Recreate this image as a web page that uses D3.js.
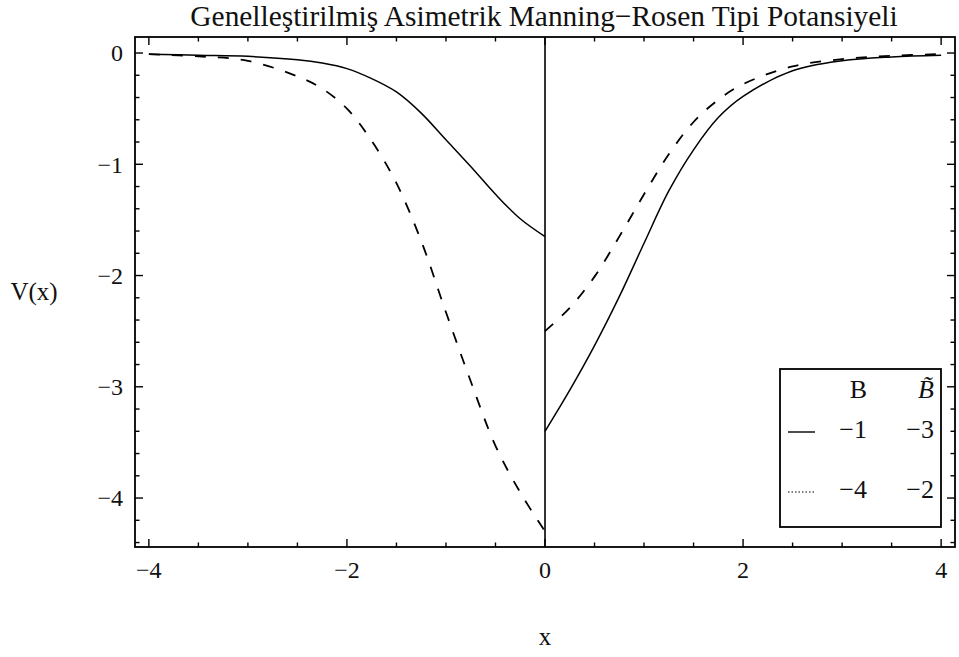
<!DOCTYPE html>
<html>
<head>
<meta charset="utf-8">
<script src="https://cdn.jsdelivr.net/npm/d3@7/dist/d3.min.js"></script>
<style>
  html, body { margin: 0; padding: 0; background: #fff; }
  svg { display: block; }
  text { font-family: "Liberation Serif", "Times New Roman", serif; fill: #111; }
</style>
</head>
<body>
<svg id="chart" width="959" height="657"></svg>
<script>
// Potential branches: left side (x < 0) and right side (x > 0)
const xNeg = [-4, -3.5, -3, -2.5, -2.25, -2, -1.75, -1.5, -1.25, -1, -0.75, -0.5, -0.25, 0];
const vSolidNeg = [-0.01, -0.02, -0.03, -0.06, -0.09, -0.14, -0.23, -0.35, -0.54, -0.78, -1.02, -1.27, -1.49, -1.65];
const vDashedNeg = [-0.01, -0.03, -0.07, -0.21, -0.32, -0.50, -0.79, -1.17, -1.69, -2.33, -2.95, -3.53, -3.95, -4.30];

const xPos = [0, 0.25, 0.5, 0.75, 1, 1.25, 1.5, 1.75, 2, 2.5, 3, 3.5, 4];
const vSolidPos = [-3.40, -3.03, -2.63, -2.19, -1.71, -1.24, -0.87, -0.58, -0.39, -0.16, -0.07, -0.035, -0.02];
const vDashedPos = [-2.50, -2.29, -2.01, -1.65, -1.27, -0.91, -0.62, -0.42, -0.28, -0.12, -0.055, -0.025, -0.01];

// Ticks
const xMajorTicks = [-4, -2, 0, 2, 4];
const xTickLabels = ["\u22124", "\u22122", "0", "2", "4"];
const xMinorTicks = [-4, -3.5, -3, -2.5, -2, -1.5, -1, -0.5, 0, 0.5, 1, 1.5, 2, 2.5, 3, 3.5, 4];
const yMajorTicks = [0, -1, -2, -3, -4];
const yTickLabels = ["0", "\u22121", "\u22122", "\u22123", "\u22124"];
const yMinorTicks = [0, -0.2, -0.4, -0.6, -0.8, -1, -1.2, -1.4, -1.6, -1.8, -2, -2.2, -2.4, -2.6, -2.8,
                     -3, -3.2, -3.4, -3.6, -3.8, -4, -4.2, -4.4];

// Legend table
const legendHeader = ["B", "B\u0303"];
const legendB = ["\u22121", "\u22124"];
const legendBtilde = ["\u22123", "\u22122"];

const titleText = "Genelle\u015ftirilmi\u015f Asimetrik Manning\u2212Rosen Tipi Potansiyeli";

const svg = d3.select("#chart");
const frameL = 135, frameR = 955, frameT = 37, frameB = 547;

const x = d3.scaleLinear().domain([-4.14, 4.14]).range([frameL, frameR]);
const y = d3.scaleLinear().domain([-4.44, 0.144]).range([frameB, frameT]);

const line = d3.line().x(d => x(d[0])).y(d => y(d[1])).curve(d3.curveCatmullRom.alpha(0.5));

const plot = svg.append("g");

// vertical axis at x = 0
plot.append("line")
  .attr("x1", x(0)).attr("x2", x(0)).attr("y1", frameT).attr("y2", frameB)
  .attr("stroke", "#000").attr("stroke-width", 1.6);

const series = [
  { xs: xNeg, vs: vSolidNeg, dash: null },
  { xs: xNeg, vs: vDashedNeg, dash: "11,12" },
  { xs: xPos, vs: vSolidPos, dash: null },
  { xs: xPos, vs: vDashedPos, dash: "11,12" }
];
series.forEach(s => {
  const pts = s.xs.map((xv, i) => [xv, s.vs[i]]);
  plot.append("path")
    .attr("d", line(pts))
    .attr("fill", "none")
    .attr("stroke", "#000")
    .attr("stroke-width", s.dash ? 1.8 : 1.5)
    .attr("stroke-dasharray", s.dash);
});

// Frame
svg.append("rect")
  .attr("x", frameL).attr("y", frameT).attr("width", frameR - frameL).attr("height", frameB - frameT)
  .attr("fill", "none").attr("stroke", "#000").attr("stroke-width", 1.8);

// Frame ticks (all four sides, pointing inward)
const tickG = svg.append("g").attr("stroke", "#000").attr("stroke-width", 1.4);
xMinorTicks.forEach(t => {
  const len = xMajorTicks.includes(t) ? 8 : 4.5;
  tickG.append("line").attr("x1", x(t)).attr("x2", x(t)).attr("y1", frameB).attr("y2", frameB - len);
  tickG.append("line").attr("x1", x(t)).attr("x2", x(t)).attr("y1", frameT).attr("y2", frameT + len);
});
yMinorTicks.forEach(t => {
  const len = yMajorTicks.some(m => Math.abs(m - t) < 1e-9) ? 8 : 4.5;
  tickG.append("line").attr("x1", frameL).attr("x2", frameL + len).attr("y1", y(t)).attr("y2", y(t));
  tickG.append("line").attr("x1", frameR).attr("x2", frameR - len).attr("y1", y(t)).attr("y2", y(t));
});

// Tick labels
xMajorTicks.forEach((t, i) => {
  svg.append("text").attr("x", x(t)).attr("y", 578)
    .attr("text-anchor", "middle").attr("font-size", 24).text(xTickLabels[i]);
});
yMajorTicks.forEach((t, i) => {
  svg.append("text").attr("x", 123).attr("y", y(t)).attr("dy", "0.35em")
    .attr("text-anchor", "end").attr("font-size", 24).text(yTickLabels[i]);
});

// Axis labels
svg.append("text").attr("x", 34).attr("y", (frameT + frameB) / 2).attr("dy", "0.33em")
  .attr("text-anchor", "middle").attr("font-size", 25).text("V(x)");
svg.append("text").attr("x", (frameL + frameR) / 2).attr("y", 645)
  .attr("text-anchor", "middle").attr("font-size", 25).text("x");

// Title
svg.append("text").attr("x", (frameL + frameR) / 2 - 1).attr("y", 26)
  .attr("text-anchor", "middle").attr("font-size", 29.4).text(titleText);

// Legend
const lg = svg.append("g");
lg.append("rect").attr("x", 780).attr("y", 369).attr("width", 161).attr("height", 158)
  .attr("fill", "#fff").attr("stroke", "#000").attr("stroke-width", 1.8);
lg.append("text").attr("x", 867).attr("y", 398).attr("text-anchor", "end")
  .attr("font-size", 26).text(legendHeader[0]);
lg.append("text").attr("x", 934).attr("y", 398).attr("text-anchor", "end")
  .attr("font-size", 26).attr("font-style", "italic").text(legendHeader[1]);
const rowY = [438, 498];
const rowDash = [null, "1.5,2"];
rowY.forEach((ry, i) => {
  lg.append("line").attr("x1", 788).attr("x2", 815).attr("y1", ry - 6).attr("y2", ry - 6)
    .attr("stroke", "#000").attr("stroke-width", rowDash[i] ? 1.2 : 1.4)
    .attr("stroke-dasharray", rowDash[i]);
  lg.append("text").attr("x", 867).attr("y", ry).attr("text-anchor", "end")
    .attr("font-size", 26).text(legendB[i]);
  lg.append("text").attr("x", 934).attr("y", ry).attr("text-anchor", "end")
    .attr("font-size", 26).text(legendBtilde[i]);
});
</script>
</body>
</html>
